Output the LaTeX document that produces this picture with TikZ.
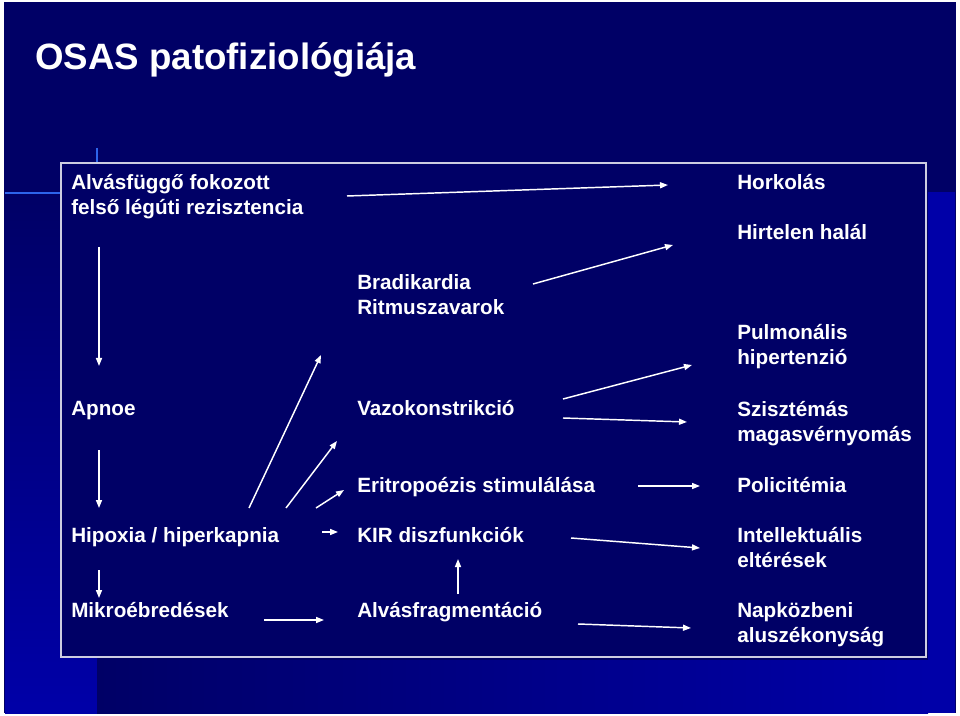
\documentclass[tikz,border=0pt]{standalone}
\usepackage{fontspec}
\setmainfont{Liberation Sans}
\usetikzlibrary{arrows.meta}
\definecolor{slnavy}{RGB}{0,0,102}
\definecolor{slblue}{RGB}{0,0,168}
\definecolor{slline}{RGB}{45,100,235}
\definecolor{slframe}{RGB}{205,205,225}
\newcommand{\bodyfont}{\bfseries\fontsize{15.5}{18.75}\selectfont}

\begin{document}
\begin{tikzpicture}[x=0.75pt,y=-0.75pt,
    lbl/.style={anchor=base west,inner sep=0pt,text=white,font=\bodyfont,align=left},
    arr/.style={white,line width=1.1pt,-{Triangle[length=6pt,width=4.5pt]}}]
  % slide background
  \useasboundingbox (0,0) rectangle (960,716);
  \fill[white] (0,0) rectangle (960,716);
  \fill[slnavy] (4,2) rectangle (956,713);
  \shade[top color=slnavy,bottom color=slblue] (5,193) rectangle (97,713);
  \shade[left color=slnavy,right color=slblue] (97,660) rectangle (928,713);
  \fill[slblue] (928,192) rectangle (955,713);
  \draw[slline,line width=1.2pt] (97,148) -- (97,163);
  \draw[slline,line width=1.2pt] (5,193) -- (61,193);
  \draw[slframe,line width=1.1pt,fill=slnavy] (61,163) rectangle (926,657);

  \node[white,font=\bfseries\fontsize{27.5}{33}\selectfont,anchor=base west,inner sep=0pt]
    (title) at (35,70) {OSAS patofiziológiája};

  % left column (y = baseline of the last line)
  \foreach \nm/\x/\y/\txt in {alv/71/215/{Alvásfüggő fokozott\\felső légúti rezisztencia},
      apn/71/416/{Apnoe}, hip/71/542/{Hipoxia / hiperkapnia}, mik/71/617/{Mikroébredések}}
    {\node[lbl] (\nm) at (\x,\y) {\txt};}
  % middle column
  \foreach \nm/\x/\y/\txt in {bra/357/315/{Bradikardia\\Ritmuszavarok},
      vaz/357/416/{Vazokonstrikció}, eri/357/492/{Eritropoézis stimulálása},
      kir/357/542/{KIR diszfunkciók}, fra/357/617/{Alvásfragmentáció}}
    {\node[lbl] (\nm) at (\x,\y) {\txt};}
  % right column
  \foreach \nm/\x/\y/\txt in {hor/737/190/{Horkolás}, hal/737/240/{Hirtelen halál},
      pul/737/365/{Pulmonális\\hipertenzió}, szi/737/441/{Szisztémás\\magasvérnyomás},
      pol/737/492/{Policitémia}, int/737/567/{Intellektuális\\eltérések},
      nap/737/642/{Napközbeni\\aluszékonyság}}
    {\node[lbl] (\nm) at (\x,\y) {\txt};}

  % arrow ends
  \foreach \nm/\x/\y in {alvR/347/196, horL/668/185, braR/533/284, halL/673/245,
      alvD/99/247, apnU/99/366, apnD/99/450, hipU/99/508, hipD/99/570, mikU/99/598,
      mikR/264/620, fraL/324/620, hipR/322/532, kirL/338/532, fraU/458/594, kirD/458/559,
      hipA/249/508, braD/321/355, hipB/286/508, vazD/337/441, hipC/316/508, eriD/344/490,
      vazA/563/399, pulL/692/365, vazB/563/418, sziL/687/422, eriR/638/486, polL/700/486,
      kirR/571/538, intL/700/548, fraR/578/624, napL/691/628}
    {\coordinate (\nm) at (\x,\y);}
  \foreach \a/\b in {alvR/horL, braR/halL, alvD/apnU, apnD/hipU, hipD/mikU, mikR/fraL,
      hipR/kirL, fraU/kirD, hipA/braD, hipB/vazD, hipC/eriD, vazA/pulL, vazB/sziL,
      eriR/polL, kirR/intL, fraR/napL}
    {\draw[arr] (\a) -- (\b);}
\end{tikzpicture}
\end{document}
